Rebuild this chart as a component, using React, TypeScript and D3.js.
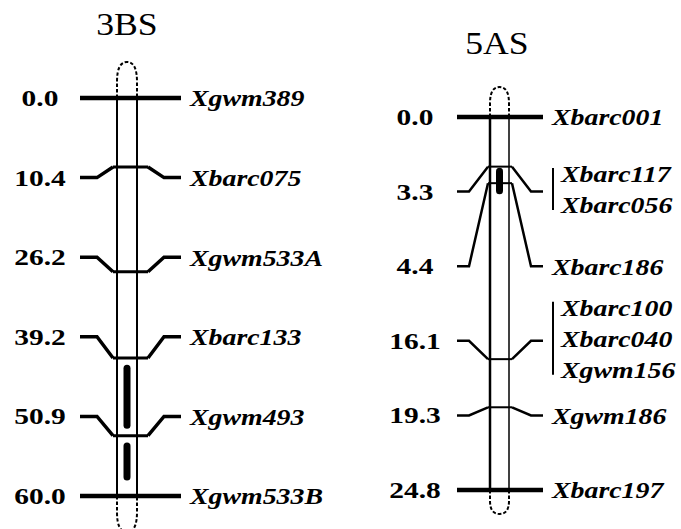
import React from "react";
import * as d3 from "d3";

// Linkage groups: titles, marker positions (cM), marker names per row, QTL intervals (cM)
const CHROM_TITLES = ["3BS", "5AS"];

const POS_3BS = [0.0, 10.4, 26.2, 39.2, 50.9, 60.0];
const MARKERS_3BS = [
  ["Xgwm389"],
  ["Xbarc075"],
  ["Xgwm533A"],
  ["Xbarc133"],
  ["Xgwm493"],
  ["Xgwm533B"],
];
const QTL_3BS = [
  [40.3, 49.8],
  [52.0, 57.6],
];

const POS_5AS = [0.0, 3.3, 4.4, 16.1, 19.3, 24.8];
const MARKERS_5AS = [
  ["Xbarc001"],
  ["Xbarc117", "Xbarc056"],
  ["Xbarc186"],
  ["Xbarc100", "Xbarc040", "Xgwm156"],
  ["Xgwm186"],
  ["Xbarc197"],
];
const QTL_5AS = [[3.4, 5.1]];

// Drawing layout for each linkage group
const LAYOUTS = [
  {
    cx: 127, halfW: 10, lineL: 80, lineR: 181, stub: 17, diag: 16,
    yTop: 98, yBot: 496, numX: 40, nameX: 190, titleX: 127, titleY: 24,
    capTop: 36, capBot: 36, connW: 3.5, leftW: 2, rightW: 2, crossW: 3,
  },
  {
    cx: 499.5, halfW: 9.5, lineL: 457, lineR: 543, stub: 12, diag: 19,
    yTop: 117, yBot: 490, numX: 415, nameX: 552, titleX: 497, titleY: 43,
    capTop: 30, capBot: 24, connW: 2.5, leftW: 2.5, rightW: 1.5, crossW: 2,
  },
];

const FONT = "'Liberation Serif', 'Times New Roman', Times, serif";
const NUM_SCALE_X = 1.28;
const NAME_SCALE_X = 1.16;
const NAME_SIZE = 24;
const GROUP_STEP = 31;

type ChromProps = {
  title: string;
  positions: number[];
  markers: string[][];
  qtls: number[][];
  layout: (typeof LAYOUTS)[number];
};

function Chromosome({ title, positions, markers, qtls, layout: L }: ChromProps) {
  const maxPos = d3.max(positions) ?? 1;
  const yCM = d3.scaleLinear().domain([0, maxPos]).range([L.yTop, L.yBot]);
  const rows = positions.map((_, i) => i);
  const yRow = d3.scalePoint<number>().domain(rows).range([L.yTop, L.yBot]);

  const left = L.cx - L.halfW;
  const right = L.cx + L.halfW;
  const yT = yCM(0);
  const yB = yCM(maxPos);

  const capTop = `M${left},${yT} L${left},${yT - L.capTop * 0.45} Q${left},${yT - L.capTop} ${L.cx},${yT - L.capTop} Q${right},${yT - L.capTop} ${right},${yT - L.capTop * 0.45} L${right},${yT}`;
  const capBot = `M${left},${yB} L${left},${yB + L.capBot * 0.45} Q${left},${yB + L.capBot} ${L.cx},${yB + L.capBot} Q${right},${yB + L.capBot} ${right},${yB + L.capBot * 0.45} L${right},${yB}`;

  const last = positions.length - 1;

  const nameText = (n: string, x: number, y: number) => (
    <text
      key={n}
      x={x}
      y={y}
      dy="0.35em"
      fontFamily={FONT}
      fontWeight="bold"
      fontStyle="italic"
      fontSize={NAME_SIZE}
      transform={`translate(${x},0) scale(${NAME_SCALE_X},1) translate(${-x},0)`}
    >
      {n}
    </text>
  );

  return (
    <g>
      <text
        x={L.titleX}
        y={L.titleY}
        dy="0.35em"
        textAnchor="middle"
        fontFamily={FONT}
        fontSize={31}
        transform={`translate(${L.titleX},0) scale(1.15,1) translate(${-L.titleX},0)`}
      >
        {title}
      </text>

      {/* telomere caps */}
      <path d={capTop} fill="none" stroke="#000" strokeWidth={2} strokeDasharray="3.5 2" />
      <path d={capBot} fill="none" stroke="#000" strokeWidth={2} strokeDasharray="3.5 2" />

      {/* chromosome outline */}
      <line x1={left} x2={left} y1={yT} y2={yB} stroke="#000" strokeWidth={L.leftW} />
      <line x1={right} x2={right} y1={yT} y2={yB} stroke="#000" strokeWidth={L.rightW} />

      {/* QTL intervals */}
      {qtls.map(([a, b], i) => (
        <line
          key={`q${i}`}
          x1={L.cx}
          x2={L.cx}
          y1={yCM(a) + 3}
          y2={yCM(b) - 3}
          stroke="#000"
          strokeWidth={7}
          strokeLinecap="round"
        />
      ))}

      {positions.map((p, i) => {
        const ly = yRow(i) ?? 0;
        const cy = yCM(p);
        const isEnd = i === 0 || i === last;
        const x1 = L.lineL + L.stub;
        const x2 = x1 + L.diag;
        const x4 = L.lineR - L.stub;
        const x3 = x4 - L.diag;
        const names = markers[i];
        return (
          <g key={`m${i}`}>
            {isEnd ? (
              <line x1={L.lineL} x2={L.lineR} y1={cy} y2={cy} stroke="#000" strokeWidth={4.5} />
            ) : (
              <>
                <path
                  d={`M${L.lineL},${ly} H${x1} L${x2},${cy}`}
                  fill="none"
                  stroke="#000"
                  strokeWidth={L.connW}
                />
                <path
                  d={`M${x3},${cy} L${x4},${ly} H${L.lineR}`}
                  fill="none"
                  stroke="#000"
                  strokeWidth={L.connW}
                />
                <line x1={x2} x2={x3} y1={cy} y2={cy} stroke="#000" strokeWidth={L.crossW} />
              </>
            )}
            <text
              x={L.numX}
              y={ly}
              dy="0.35em"
              textAnchor="middle"
              fontFamily={FONT}
              fontWeight="bold"
              fontSize={23}
              transform={`translate(${L.numX},0) scale(${NUM_SCALE_X},1) translate(${-L.numX},0)`}
            >
              {p.toFixed(1)}
            </text>
            {names.length === 1 ? (
              nameText(names[0], L.nameX, ly)
            ) : (
              <g>
                <line
                  x1={L.nameX + 1}
                  x2={L.nameX + 1}
                  y1={ly - 2 - ((names.length - 1) * GROUP_STEP) / 2 - 6}
                  y2={ly - 2 + ((names.length - 1) * GROUP_STEP) / 2 + 5}
                  stroke="#000"
                  strokeWidth={2}
                />
                {names.map((n, k) =>
                  nameText(n, L.nameX + 9, ly - 2 + (k - (names.length - 1) / 2) * GROUP_STEP)
                )}
              </g>
            )}
          </g>
        );
      })}
    </g>
  );
}

export default function App() {
  const groups = [
    { title: CHROM_TITLES[0], positions: POS_3BS, markers: MARKERS_3BS, qtls: QTL_3BS },
    { title: CHROM_TITLES[1], positions: POS_5AS, markers: MARKERS_5AS, qtls: QTL_5AS },
  ];
  return (
    <svg
      width={681}
      height={529}
      viewBox="0 0 681 529"
      style={{ position: "absolute", left: 0, top: 0, background: "#fff" }}
    >
      <rect width={681} height={529} fill="#fff" />
      {groups.map((g, i) => (
        <Chromosome key={g.title} {...g} layout={LAYOUTS[i]} />
      ))}
    </svg>
  );
}
